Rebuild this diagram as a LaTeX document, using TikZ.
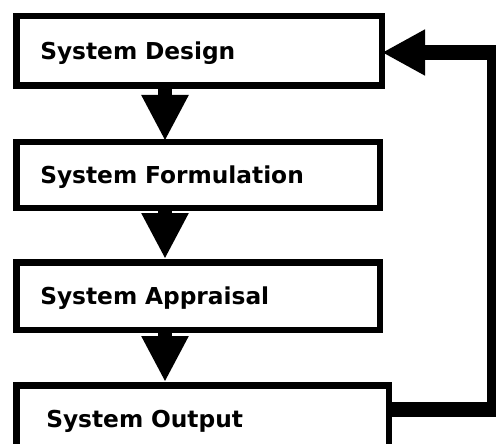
\documentclass[tikz,border=0pt]{standalone}
\usepackage{fontspec}
\setmainfont{DejaVu Sans}
\usetikzlibrary{arrows.meta}

\begin{document}
\begin{tikzpicture}[x=1pt,y=-1pt,
  stagebox/.style={draw=black, line width=6.5pt, fill=white, rectangle,
    align=left, inner ysep=0pt, text height=17pt, text depth=0pt,
    font=\fontsize{23.3}{28}\selectfont\bfseries},
  flow/.style={line width=14pt, -{Triangle[length=46pt,width=44pt]}},
  feedback/.style={line width=15pt, line join=miter,
    -{Triangle[length=43pt,width=43pt]}}]
  \useasboundingbox (0,0) rectangle (496,444);
  \fill[white] (0,0) rectangle (496,444);

  % the four stages
  \node[stagebox, minimum width=365.5pt, minimum height=69.5pt,
        text width=317.5pt, inner xsep=24pt] (design) at (199,51) {System Design};
  \node[stagebox, minimum width=363.5pt, minimum height=65.5pt,
        text width=315.5pt, inner xsep=24pt] (formul) at (198,175) {System Formulation};
  \node[stagebox, minimum width=363.5pt, minimum height=67.5pt,
        text width=315.5pt, inner xsep=24pt] (apprais) at (198,296) {System Appraisal};
  \node[stagebox, minimum width=372.5pt, minimum height=66.5pt,
        text width=312.5pt, inner xsep=30pt] (output) at (202.5,418.5) {System Output};

  % downward flow between stages
  \draw[flow] ([xshift=152pt]design.south west) -- ([xshift=152pt,yshift=-2pt]formul.north west);
  \draw[flow] ([xshift=152pt]formul.south west) -- ([xshift=152pt]apprais.north west);
  \draw[flow] ([xshift=152pt]apprais.south west) -- ([xshift=152pt]output.north west);

  % feedback loop from output back to design
  \coordinate (rail) at (494,0);
  \draw[feedback] ([yshift=9pt]output.east) -- ([yshift=9pt]output.east -| rail)
    -- ([yshift=-1.5pt]design.east -| rail) -- ([xshift=-3pt,yshift=-1.5pt]design.east);
\end{tikzpicture}
\end{document}
